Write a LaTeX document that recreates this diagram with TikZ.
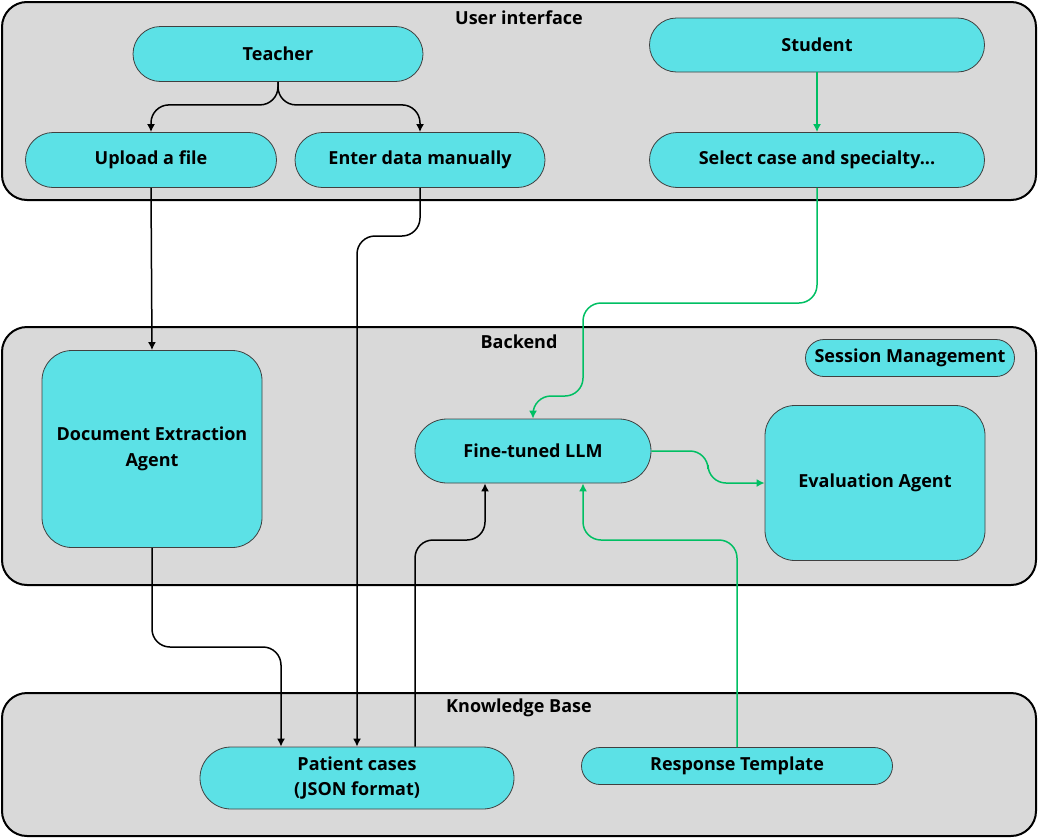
\documentclass[tikz,border=0pt]{standalone}
\usepackage{fontspec}
\setmainfont{Open Sans}
\usetikzlibrary{arrows.meta,shapes.misc}

\definecolor{panelgray}{HTML}{D9D9D9}
\definecolor{boxcyan}{HTML}{5CE1E6}
\definecolor{flowgreen}{HTML}{00BF63}

\tikzset{
	panel/.style = {draw = black, line width = 2, fill = panelgray, rounded corners = 25},
	paneltitle/.style = {font = \fontsize{18}{20}\selectfont\bfseries},
	pill/.style = {rounded rectangle, draw = black!75, line width = 0.8, fill = boxcyan, inner sep = 0, font = \fontsize{18}{25}\selectfont\bfseries, align = center},
	block/.style = {rectangle, rounded corners = 30, draw = black!75, line width = 0.8, fill = boxcyan, inner sep = 0, font = \fontsize{18}{26}\selectfont\bfseries, align = center},
	link/.style = {line width = 1.5, rounded corners = 18, -{Latex[length = 8, width = 8]}},
	blacklink/.style = {link, draw = black},
	greenlink/.style = {link, draw = flowgreen}
}

\begin{document}
\begin{tikzpicture}[x = 1pt, y = -1pt]
			\useasboundingbox (0,0) rectangle (1038,838);
			
			% the three layers
			\draw[panel] (2,2) rectangle (1036,200);
			\draw[panel] (2,327) rectangle (1036,585);
			\draw[panel] (2,693) rectangle (1036,836);
			
			\node[paneltitle] (uititle) at (519,18) {User interface};
			\node[paneltitle] (betitle) at (519,342) {Backend};
			\node[paneltitle] (kbtitle) at (519,708) {Knowledge Base};
			
			% user interface
			\node[pill, minimum width = 290, minimum height = 55] (teacher) at (278,54) {Teacher};
			\node[pill, minimum width = 251, minimum height = 55] (upload) at (151,160) {Upload a file};
			\node[pill, minimum width = 250, minimum height = 55] (enter) at (420,160) {Enter data manually};
			\node[pill, minimum width = 335, minimum height = 54] (student) at (817,45) {Student};
			\node[pill, minimum width = 335, minimum height = 55] (select) at (817,160) {Select case and specialty...};
			
			% backend
			\node[pill, minimum width = 209, minimum height = 37] (session) at (910,358) {Session Management};
			\node[block, minimum width = 220, minimum height = 197] (extract) at (152,449) {Document Extraction\\Agent};
			\node[pill, minimum width = 236, minimum height = 64] (llm) at (533,451) {Fine-tuned LLM};
			\node[block, minimum width = 220, minimum height = 155] (evaluate) at (875,483) {Evaluation Agent};
			
			% knowledge base
			\node[pill, minimum width = 314, minimum height = 62] (patient) at (357,778) {Patient cases\\(JSON format)};
			\node[pill, minimum width = 311, minimum height = 37] (template) at (737,766) {Response Template};
			
			% teacher paths
			\draw[blacklink] (teacher.south) -- ++(0,23) -| (upload.north);
			\draw[blacklink] (teacher.south) -- ++(0,23) -| (enter.north);
			\draw[blacklink] (upload.south) -- (extract.north);
			\draw[blacklink] (enter.south) |- (357,236) -- (patient.north);
			\draw[blacklink] (extract.south) |- (281,647) -- ([xshift = -76]patient.north);
			\draw[blacklink] ([xshift = 58]patient.north) |- (485,540) -- ([xshift = -48]llm.south);
			
			% student paths
			\draw[greenlink] (student.south) -- (select.north);
			\draw[greenlink] (select.south) |- (583,303) -- (583,396) -| (llm.north);
			\draw[greenlink] (template.north) |- (583,540) -- ([xshift = 50]llm.south);
			\draw[greenlink] (llm.east) -| (708,483) -- (evaluate.west);
		\end{tikzpicture}
\end{document}
